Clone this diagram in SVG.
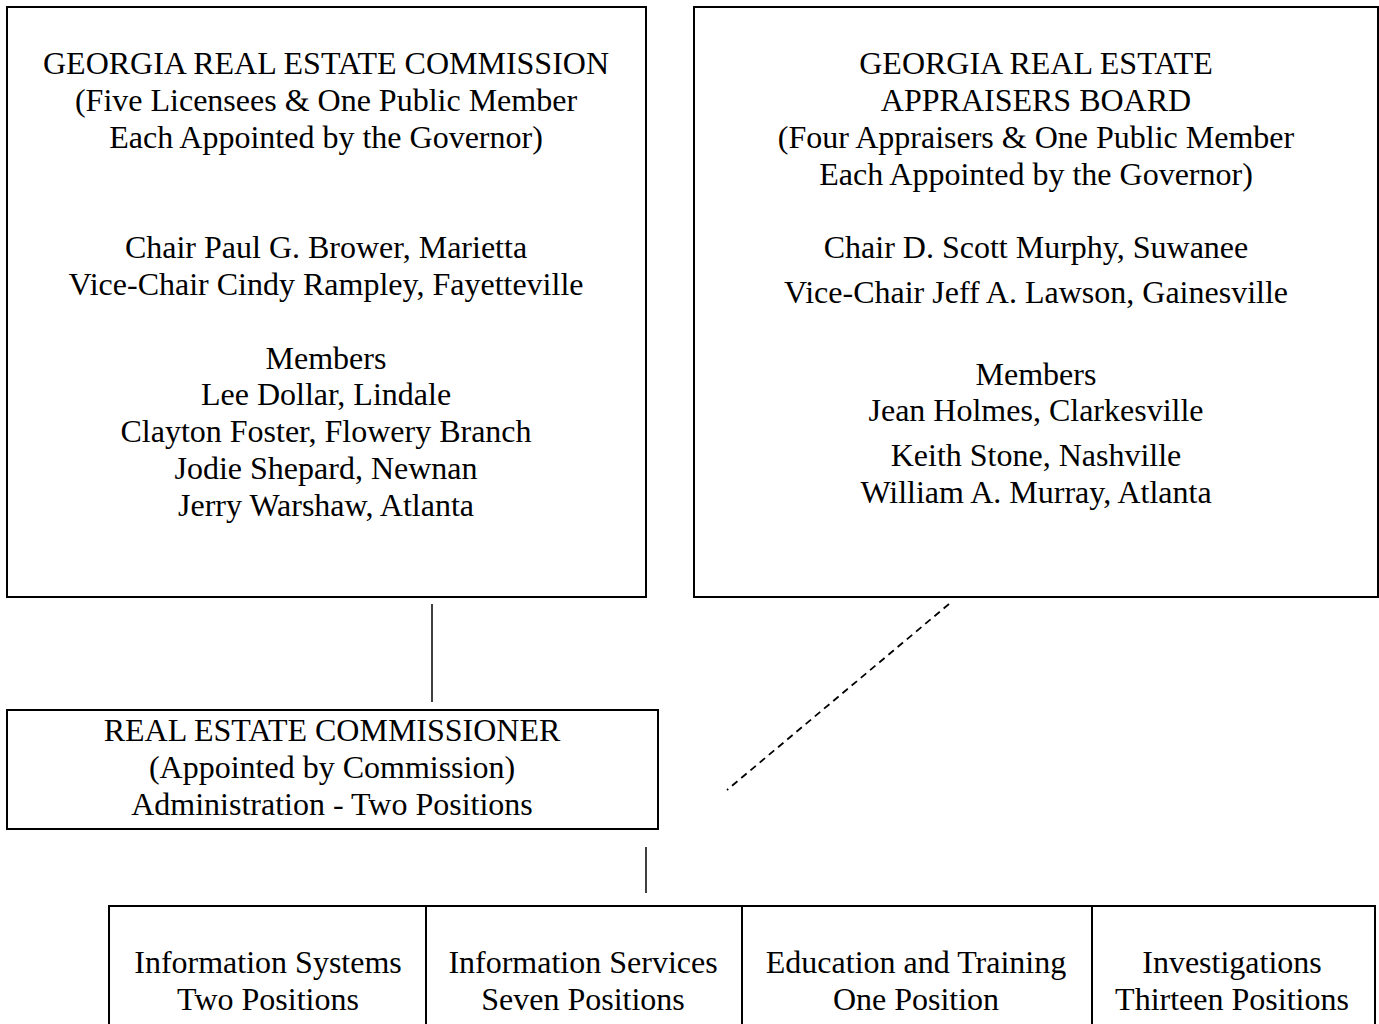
<svg xmlns="http://www.w3.org/2000/svg" width="1379" height="1024" viewBox="0 0 1379 1024">
<style>
.box{fill:#fff;stroke:#000;stroke-width:2}
text{font-family:"Liberation Serif","Times New Roman",serif;font-size:32px;fill:#000;text-anchor:middle}
.ln{stroke:#000;stroke-width:1.5;fill:none}
.dash{stroke:#000;stroke-width:1.8;fill:none;stroke-dasharray:7 5}
</style>
<rect width="1379" height="1024" fill="#fff"/>
<g id="connectors">
<line class="ln" x1="432" y1="604" x2="432" y2="702"/>
<line class="dash" x1="949" y1="604" x2="727" y2="790"/>
<line class="ln" x1="646" y1="847" x2="646" y2="893"/>
</g>
<g id="commission">
<rect class="box" x="7" y="7" width="639" height="590"/>
<text x="326" y="74">GEORGIA REAL ESTATE COMMISSION</text>
<text x="326" y="111">(Five Licensees &amp; One Public Member</text>
<text x="326" y="148">Each Appointed by the Governor)</text>
<text x="326" y="258">Chair Paul G. Brower, Marietta</text>
<text x="326" y="295">Vice-Chair Cindy Rampley, Fayetteville</text>
<text x="326" y="369">Members</text>
<text x="326" y="405">Lee Dollar, Lindale</text>
<text x="326" y="442">Clayton Foster, Flowery Branch</text>
<text x="326" y="479">Jodie Shepard, Newnan</text>
<text x="326" y="516">Jerry Warshaw, Atlanta</text>
</g>
<g id="appraisers">
<rect class="box" x="694" y="7" width="684" height="590"/>
<text x="1036" y="74">GEORGIA REAL ESTATE</text>
<text x="1036" y="111">APPRAISERS BOARD</text>
<text x="1036" y="148">(Four Appraisers &amp; One Public Member</text>
<text x="1036" y="185">Each Appointed by the Governor)</text>
<text x="1036" y="258">Chair D. Scott Murphy, Suwanee</text>
<text x="1036" y="303">Vice-Chair Jeff A. Lawson, Gainesville</text>
<text x="1036" y="385">Members</text>
<text x="1036" y="421">Jean Holmes, Clarkesville</text>
<text x="1036" y="466">Keith Stone, Nashville</text>
<text x="1036" y="503">William A. Murray, Atlanta</text>
</g>
<g id="commissioner">
<rect class="box" x="7" y="710" width="651" height="119"/>
<text x="332" y="741">REAL ESTATE COMMISSIONER</text>
<text x="332" y="778">(Appointed by Commission)</text>
<text x="332" y="815">Administration - Two Positions</text>
</g>
<g id="info-systems">
<rect class="box" x="109" y="906" width="317" height="130"/>
<text x="268" y="973">Information Systems</text>
<text x="268" y="1010">Two Positions</text>
</g>
<g id="info-services">
<rect class="box" x="426" y="906" width="316" height="130"/>
<text x="583" y="973">Information Services</text>
<text x="583" y="1010">Seven Positions</text>
</g>
<g id="education">
<rect class="box" x="742" y="906" width="350" height="130"/>
<text x="916" y="973">Education and Training</text>
<text x="916" y="1010">One Position</text>
</g>
<g id="investigations">
<rect class="box" x="1092" y="906" width="283" height="130"/>
<text x="1232" y="973">Investigations</text>
<text x="1232" y="1010">Thirteen Positions</text>
</g>
</svg>
